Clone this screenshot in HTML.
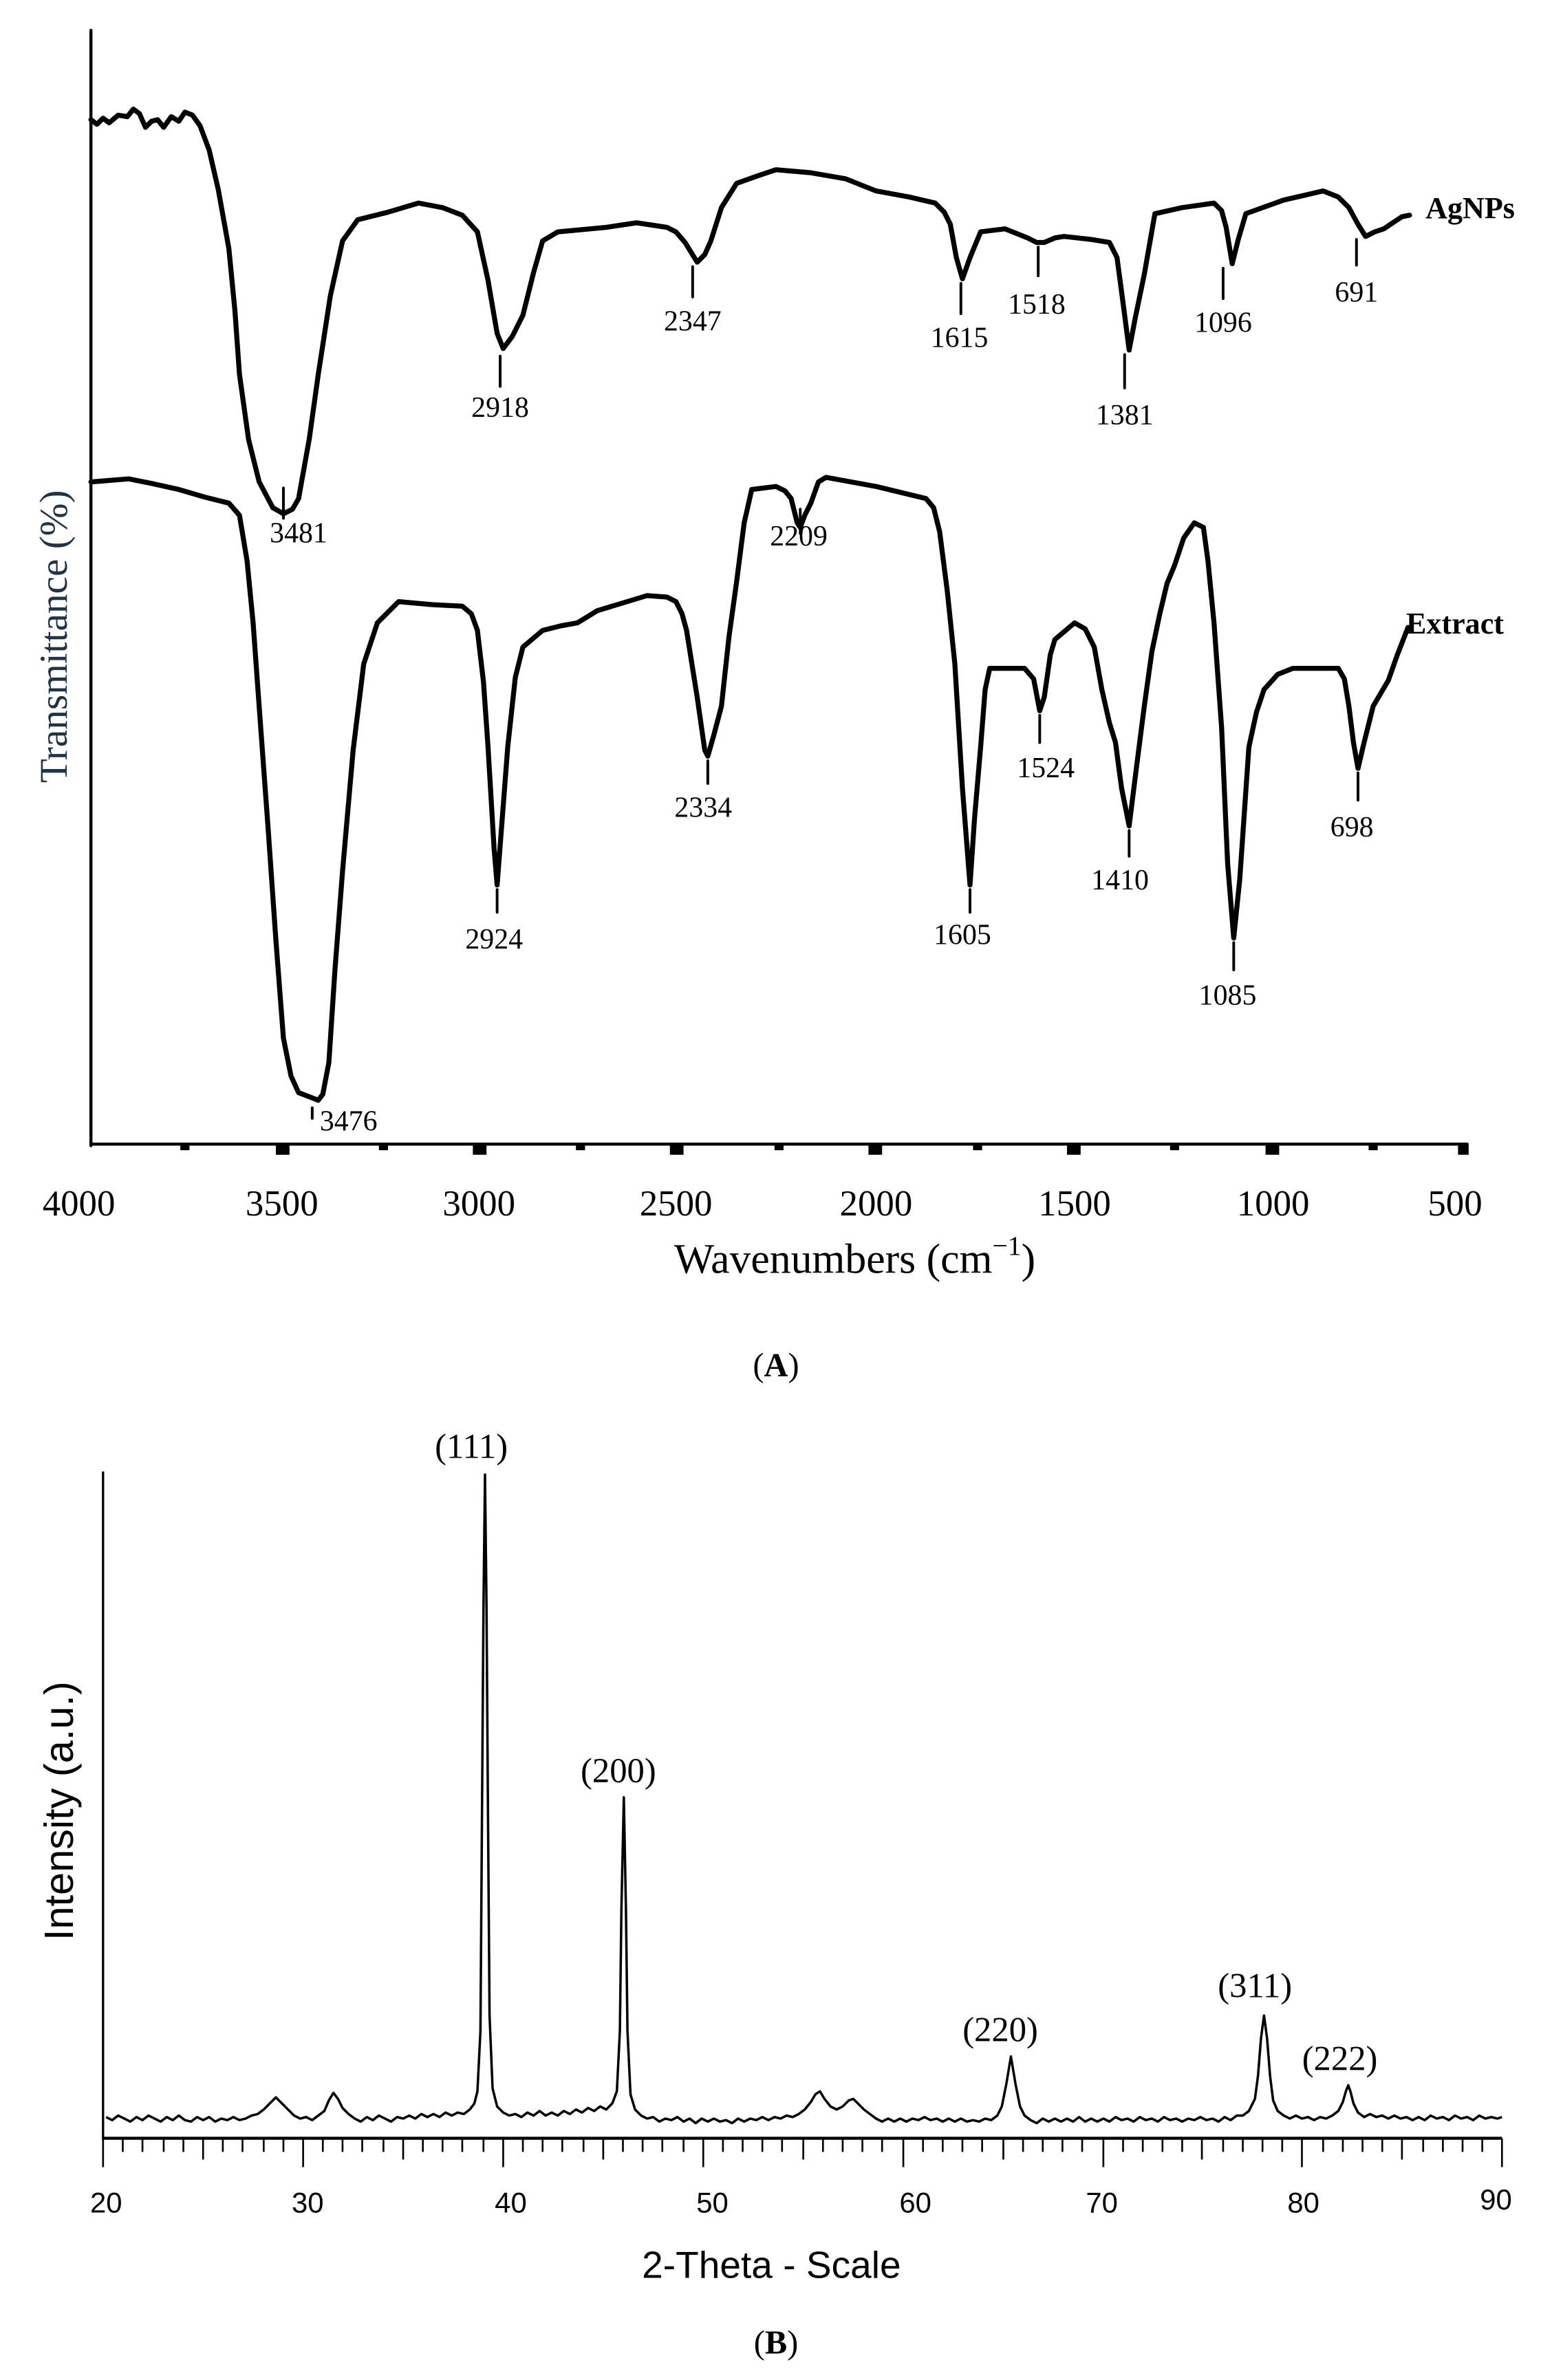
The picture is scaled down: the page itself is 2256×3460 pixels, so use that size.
<!DOCTYPE html>
<html><head><meta charset="utf-8"><style>
html,body{margin:0;padding:0;background:#fff;}
svg{display:block;}
</style></head><body>
<svg width="2256" height="3460" viewBox="0 0 1024 1570.5" preserveAspectRatio="none" xmlns="http://www.w3.org/2000/svg">
<rect width="1024" height="1570.5" fill="#fff"/>
<g fill="none" stroke="#000" stroke-linejoin="round" stroke-linecap="round">
<line x1="60" y1="20" x2="60" y2="756" stroke-width="2"/>
<line x1="60" y1="755" x2="968" y2="755" stroke-width="2"/>
<path stroke-width="3.3" d="M60,79 L64,82 L68,78 L72,81 L78,76 L84,77 L88,72 L92,75 L96,84 L100,80 L104,79 L108,84 L113,77 L118,80 L122,74 L127,76 L132,83 L138,99 L144,125 L151,164 L155,205 L158,247 L164,290 L171,318 L180,335 L187,339 L193,336 L197,329 L204,290 L210,247 L218,195 L226,159 L236,145 L256,140 L276,134 L292,137 L305,142 L315,153 L322,185 L328,220 L332,230 L338,222 L345,208 L352,180 L358,159 L368,153 L400,150 L420,147 L440,150 L446,153 L452,160 L460,173 L465,168 L469,159 L476,137 L486,121 L500,116 L512,112 L535,114 L558,118 L578,126 L600,130 L617,134 L623,140 L627,148 L631,170 L635,184 L640,170 L647,153 L663,151 L678,157 L684,160 L689,160 L696,157 L702,156 L720,158 L732,160 L737,170 L741,200 L745,231 L749,210 L755,181 L762,141 L780,137 L801,134 L806,139 L809,150 L813,174 L817,158 L822,141 L847,132 L873,126 L883,130 L890,137 L896,148 L901,156 L907,153 L913,151 L925,143 L930,142"/>
<path stroke-width="3.3" d="M60,318 L85,316 L100,319 L118,323 L135,328 L151,332 L158,340 L163,370 L167,411 L172,480 L177,548 L182,620 L187,685 L192,710 L197,721 L210,726 L213,722 L217,701 L221,640 L226,575 L233,495 L240,438 L249,411 L263,397 L285,399 L305,400 L311,405 L315,416 L319,450 L322,493 L326,560 L328,584 L331,545 L335,493 L340,447 L345,427 L358,416 L370,413 L381,411 L394,403 L427,393 L440,394 L446,397 L450,405 L453,416 L460,460 L465,495 L467,499 L471,485 L476,466 L481,420 L486,384 L491,345 L496,323 L512,321 L518,324 L522,329 L526,345 L528,348 L531,340 L535,332 L540,318 L545,315 L578,321 L611,329 L616,335 L620,351 L625,390 L630,438 L635,520 L640,584 L643,540 L647,493 L650,455 L653,441 L676,441 L682,448 L686,469 L689,460 L693,432 L696,422 L709,411 L716,415 L722,427 L727,455 L732,477 L736,490 L740,520 L745,545 L750,505 L755,466 L760,430 L765,406 L770,385 L775,373 L781,355 L788,345 L794,348 L797,370 L801,411 L806,480 L810,570 L814,619 L818,580 L824,493 L829,470 L834,455 L843,445 L853,441 L883,441 L887,448 L890,466 L893,490 L896,507 L900,490 L906,466 L916,449 L922,432 L929,414"/>
<g stroke-width="1.8">
<line x1="330" y1="235" x2="330" y2="255"/>
<line x1="187" y1="322" x2="187" y2="342"/>
<line x1="457" y1="176" x2="457" y2="196"/>
<line x1="634" y1="187" x2="634" y2="207"/>
<line x1="685" y1="163" x2="685" y2="182"/>
<line x1="742" y1="234" x2="742" y2="256"/>
<line x1="807" y1="177" x2="807" y2="197"/>
<line x1="895" y1="158" x2="895" y2="175"/>
<line x1="206" y1="731" x2="206" y2="738"/>
<line x1="328" y1="587" x2="328" y2="602"/>
<line x1="528" y1="336" x2="528" y2="352"/>
<line x1="467" y1="502" x2="467" y2="517"/>
<line x1="640" y1="587" x2="640" y2="602"/>
<line x1="686" y1="472" x2="686" y2="490"/>
<line x1="745" y1="548" x2="745" y2="565"/>
<line x1="814" y1="622" x2="814" y2="640"/>
<line x1="896" y1="510" x2="896" y2="528"/>
</g>
</g>
<g fill="#000">
<rect x="182" y="755" width="9" height="7"/><rect x="312" y="755" width="9" height="7"/><rect x="442" y="755" width="9" height="7"/><rect x="573" y="755" width="9" height="7"/><rect x="704" y="755" width="9" height="7"/><rect x="835" y="755" width="9" height="7"/><rect x="962" y="755" width="7" height="7"/>
<rect x="119" y="755" width="6" height="4"/><rect x="250" y="755" width="6" height="4"/><rect x="380" y="755" width="6" height="4"/><rect x="511" y="755" width="6" height="4"/><rect x="642" y="755" width="6" height="4"/><rect x="772" y="755" width="6" height="4"/><rect x="903" y="755" width="6" height="4"/>
</g>
<g font-family="'Liberation Serif',serif" font-size="19" text-anchor="middle" fill="#000">
<text x="330" y="275">2918</text><text x="197" y="358">3481</text><text x="457" y="218">2347</text>
<text x="633" y="229">1615</text><text x="684" y="207">1518</text><text x="742" y="280">1381</text>
<text x="807" y="219">1096</text><text x="895" y="199">691</text>
<text x="230" y="746">3476</text><text x="326" y="626">2924</text><text x="527" y="360">2209</text>
<text x="464" y="539">2334</text><text x="635" y="623">1605</text><text x="690" y="513">1524</text>
<text x="739" y="587">1410</text><text x="810" y="663">1085</text><text x="892" y="552">698</text>
<text x="970" y="144" font-weight="bold" font-size="20">AgNPs</text>
<text x="960" y="418" font-weight="bold" font-size="20">Extract</text>
<g font-size="24"><text x="52" y="802">4000</text><text x="186" y="802">3500</text><text x="316" y="802">3000</text><text x="446" y="802">2500</text><text x="578" y="802">2000</text><text x="709" y="802">1500</text><text x="840" y="802">1000</text><text x="960" y="802">500</text></g>
<text x="564" y="840" font-size="28">Wavenumbers (cm<tspan font-size="18" dy="-12">−1</tspan><tspan dy="12">)</tspan></text>
<text transform="translate(44,420) rotate(-90)" font-size="26" fill="#223344">Transmittance (%)</text>
<text x="512" y="908" font-size="22">(<tspan font-weight="bold">A</tspan>)</text>
<text x="512" y="1553" font-size="22">(<tspan font-weight="bold">B</tspan>)</text>
<g font-size="23"><text x="311" y="962">(111)</text><text x="408" y="1176">(200)</text><text x="660" y="1347">(220)</text><text x="828" y="1318">(311)</text><text x="884" y="1366">(222)</text></g>
</g>
<g stroke="#000" fill="none">
<line x1="68" y1="971" x2="68" y2="1412" stroke-width="1.5"/>
<line x1="68" y1="1411" x2="991" y2="1411" stroke-width="2"/>
<path stroke-width="1.2" d="M68,1411v19 M81,1411v9 M94,1411v9 M108,1411v9 M121,1411v9 M134,1411v14 M147,1411v9 M160,1411v9 M174,1411v9 M187,1411v9 M200,1411v19 M213,1411v9 M226,1411v9 M239,1411v9 M253,1411v9 M266,1411v14 M279,1411v9 M292,1411v9 M305,1411v9 M319,1411v9 M332,1411v19 M345,1411v9 M358,1411v9 M371,1411v9 M385,1411v9 M398,1411v14 M411,1411v9 M424,1411v9 M437,1411v9 M451,1411v9 M464,1411v19 M477,1411v9 M490,1411v9 M503,1411v9 M516,1411v9 M530,1411v14 M543,1411v9 M556,1411v9 M569,1411v9 M582,1411v9 M596,1411v19 M609,1411v9 M622,1411v9 M635,1411v9 M648,1411v9 M662,1411v14 M675,1411v9 M688,1411v9 M701,1411v9 M714,1411v9 M728,1411v19 M741,1411v9 M754,1411v9 M767,1411v9 M780,1411v9 M793,1411v14 M807,1411v9 M820,1411v9 M833,1411v9 M846,1411v9 M859,1411v19 M873,1411v9 M886,1411v9 M899,1411v9 M912,1411v9 M925,1411v14 M939,1411v9 M952,1411v9 M965,1411v9 M978,1411v9 M991,1411v19"/>
<path stroke-width="1.6" stroke-linejoin="round" d="M70,1397 L74,1399 L78,1396 L82,1398 L86,1400 L90,1397 L94,1399 L98,1396 L102,1398 L106,1400 L110,1397 L114,1399 L118,1396 L122,1399 L126,1400 L130,1397 L134,1399 L138,1397 L142,1400 L146,1398 L150,1399 L154,1397 L158,1399 L162,1398 L166,1396 L170,1395 L174,1392 L178,1388 L182,1384 L186,1388 L190,1392 L194,1396 L198,1398 L202,1397 L206,1399 L210,1396 L214,1393 L217,1386 L220,1381 L223,1385 L226,1391 L230,1395 L234,1398 L238,1400 L242,1397 L246,1399 L250,1396 L254,1398 L258,1400 L262,1397 L266,1398 L270,1396 L274,1398 L278,1395 L282,1397 L286,1395 L290,1397 L294,1394 L298,1396 L302,1394 L306,1395 L310,1392 L313,1388 L315,1380 L317,1340 L318,1200 L319,1060 L320,973 L321,1060 L322,1200 L323,1330 L325,1378 L328,1390 L332,1394 L336,1396 L340,1395 L344,1397 L348,1394 L352,1396 L356,1393 L360,1396 L364,1394 L368,1396 L372,1393 L376,1395 L380,1392 L384,1394 L388,1391 L392,1393 L396,1390 L400,1392 L404,1388 L407,1380 L409,1340 L410,1260 L411.6,1186 L413,1260 L414,1340 L416,1382 L419,1392 L423,1396 L427,1398 L431,1397 L435,1400 L439,1398 L443,1399 L447,1397 L451,1400 L455,1398 L459,1401 L463,1398 L467,1400 L471,1398 L475,1400 L479,1399 L483,1401 L487,1398 L491,1400 L495,1398 L499,1399 L503,1397 L507,1399 L511,1397 L515,1398 L519,1396 L523,1397 L527,1395 L531,1392 L535,1387 L538,1382 L541,1380 L544,1385 L548,1390 L552,1392 L556,1390 L560,1386 L563,1385 L566,1388 L570,1392 L574,1395 L578,1398 L582,1400 L586,1398 L590,1400 L594,1398 L598,1400 L602,1398 L606,1399 L610,1397 L614,1399 L618,1398 L622,1400 L626,1398 L630,1400 L634,1398 L638,1400 L642,1399 L646,1400 L650,1398 L654,1399 L658,1396 L661,1390 L664,1375 L667,1357 L670,1375 L673,1390 L676,1396 L680,1399 L684,1401 L688,1398 L692,1400 L696,1398 L700,1400 L704,1398 L708,1400 L712,1397 L716,1400 L720,1398 L724,1400 L728,1398 L732,1400 L736,1397 L740,1399 L744,1398 L748,1400 L752,1397 L756,1399 L760,1398 L764,1400 L768,1397 L772,1399 L776,1398 L780,1400 L784,1398 L788,1399 L792,1397 L796,1399 L800,1398 L804,1400 L808,1397 L812,1399 L816,1396 L820,1396 L824,1393 L828,1385 L830,1370 L832,1345 L834,1330 L836,1345 L838,1370 L840,1386 L843,1393 L847,1396 L851,1398 L855,1396 L859,1398 L863,1397 L867,1399 L871,1397 L875,1398 L879,1396 L883,1393 L886,1387 L888,1380 L889.6,1376 L891,1380 L893,1388 L896,1394 L900,1397 L904,1395 L908,1397 L912,1396 L916,1398 L920,1396 L924,1398 L928,1397 L932,1399 L936,1397 L940,1399 L944,1396 L948,1398 L952,1397 L956,1399 L960,1396 L964,1398 L968,1397 L972,1399 L976,1396 L980,1398 L984,1397 L988,1398 L991,1397"/>
</g>
<g font-family="'Liberation Sans',Arial,sans-serif" fill="#000" text-anchor="middle">
<g font-size="19"><text x="70" y="1460">20</text><text x="203" y="1460">30</text><text x="337" y="1460">40</text><text x="470" y="1460">50</text><text x="604" y="1460">60</text><text x="727" y="1460">70</text><text x="860" y="1460">80</text><text x="987" y="1458">90</text></g>
<text x="509" y="1503" font-size="25">2-Theta - Scale</text>
<text transform="translate(48,1195) rotate(-90)" font-size="27">Intensity (a.u.)</text>
</g>
</svg>
</body></html>
